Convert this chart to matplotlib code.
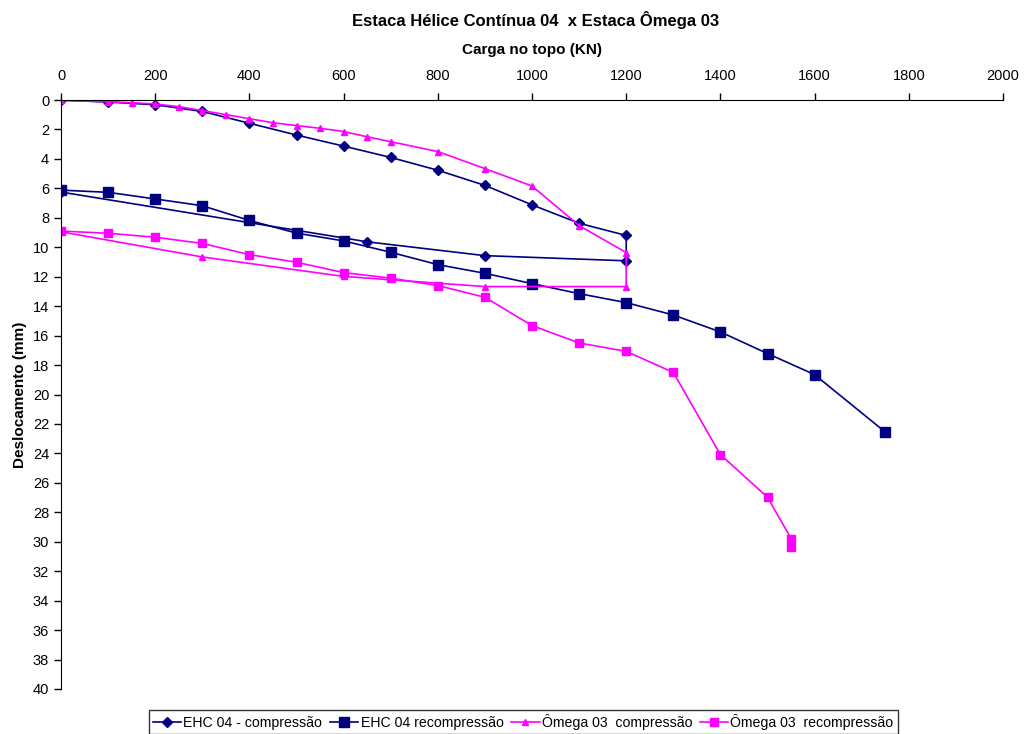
import matplotlib.pyplot as plt

plt.rcParams['font.family'] = ['Liberation Sans', 'DejaVu Sans']

# EHC 04 - compressão (carga / deslocamento, com descarregamento)
ehc_comp_x = [0, 100, 200, 300, 400, 500, 600, 700, 800, 900, 1000, 1100, 1200, 1200, 900, 650, 0]
ehc_comp_y = [0, 0.14, 0.32, 0.78, 1.58, 2.38, 3.13, 3.9, 4.77, 5.8, 7.12, 8.37, 9.2, 10.92, 10.57, 9.63, 6.25]

# EHC 04 recompressão
ehc_rec_x = [0, 100, 200, 300, 400, 500, 600, 700, 800, 900, 1000, 1100, 1200, 1300, 1400, 1500, 1600, 1750]
ehc_rec_y = [6.12, 6.27, 6.72, 7.18, 8.18, 9.04, 9.57, 10.34, 11.18, 11.77, 12.47, 13.15, 13.76, 14.6, 15.75, 17.22, 18.65, 22.55]

# Ômega 03 compressão
om_comp_x = [0, 100, 150, 200, 250, 300, 350, 400, 450, 500, 550, 600, 650, 700, 800, 900, 1000, 1100, 1200,
             1200, 900, 600, 300, 0]
om_comp_y = [0.03, 0.12, 0.18, 0.27, 0.45, 0.72, 0.99, 1.27, 1.54, 1.74, 1.92, 2.14, 2.5, 2.83, 3.5, 4.66, 5.84, 8.53, 10.36,
             12.67, 12.67, 11.98, 10.66, 8.95]

# Ômega 03 recompressão
om_rec_x = [0, 100, 200, 300, 400, 500, 600, 700, 800, 900, 1000, 1100, 1200, 1300, 1400, 1500, 1550, 1550]
om_rec_y = [8.9, 9.05, 9.32, 9.74, 10.5, 11.02, 11.72, 12.1, 12.6, 13.4, 15.32, 16.5, 17.07, 18.5, 24.08, 26.98, 29.78, 30.38]

navy = '#000080'
magenta = '#FF00FF'

fig = plt.figure(figsize=(10.24, 7.34), dpi=100)
ax = fig.add_axes([61 / 1024, 1 - 689 / 734, (1003 - 61) / 1024, (689 - 100) / 734])

ax.plot(ehc_comp_x, ehc_comp_y, color=navy, lw=1.2, marker='D', ms=5.5, mec=navy, mfc=navy,
        label='EHC 04 - compressão')
ax.plot(ehc_rec_x, ehc_rec_y, color=navy, lw=1.2, marker='s', ms=7, mec=navy, mfc=navy,
        label='EHC 04 recompressão')
ax.plot(om_comp_x, om_comp_y, color=magenta, lw=1.2, marker='^', ms=5, mec=magenta, mfc=magenta,
        label='Ômega 03  compressão')
ax.plot(om_rec_x, om_rec_y, color=magenta, lw=1.2, marker='s', ms=5.5, mec=magenta, mfc=magenta,
        label='Ômega 03  recompressão')

ax.set_xlim(0, 2000)
ax.set_ylim(40, 0)
ax.set_xticks(range(0, 2001, 200))
ax.set_yticks(range(0, 41, 2))
ax.xaxis.tick_top()
ax.xaxis.set_label_position('top')
ax.spines['right'].set_visible(False)
ax.spines['bottom'].set_visible(False)
ax.tick_params(axis='both', direction='out', length=5, width=1, labelsize=10.5, colors='black')
ax.tick_params(axis='x', pad=7)

ax.set_xlabel('Carga no topo (KN)', fontsize=11, fontweight='bold', labelpad=11)
ax.set_ylabel('Deslocamento (mm)', fontsize=11, fontweight='bold', labelpad=4)
fig.text(0.523, 1 - 20 / 734, 'Estaca Hélice Contínua 04  x Estaca Ômega 03', ha='center', va='center',
         fontsize=12, fontweight='bold')

leg = fig.legend(loc='lower center', bbox_to_anchor=(0.511, 0.0), ncol=4, frameon=True, fancybox=False,
                 fontsize=10.2, handlelength=2.0, handletextpad=0.15, columnspacing=0.55, borderpad=0.3,
                 borderaxespad=0.0)
leg.get_frame().set_edgecolor('black')
leg.get_frame().set_linewidth(1.0)

fig.savefig('out.png', dpi=100)
